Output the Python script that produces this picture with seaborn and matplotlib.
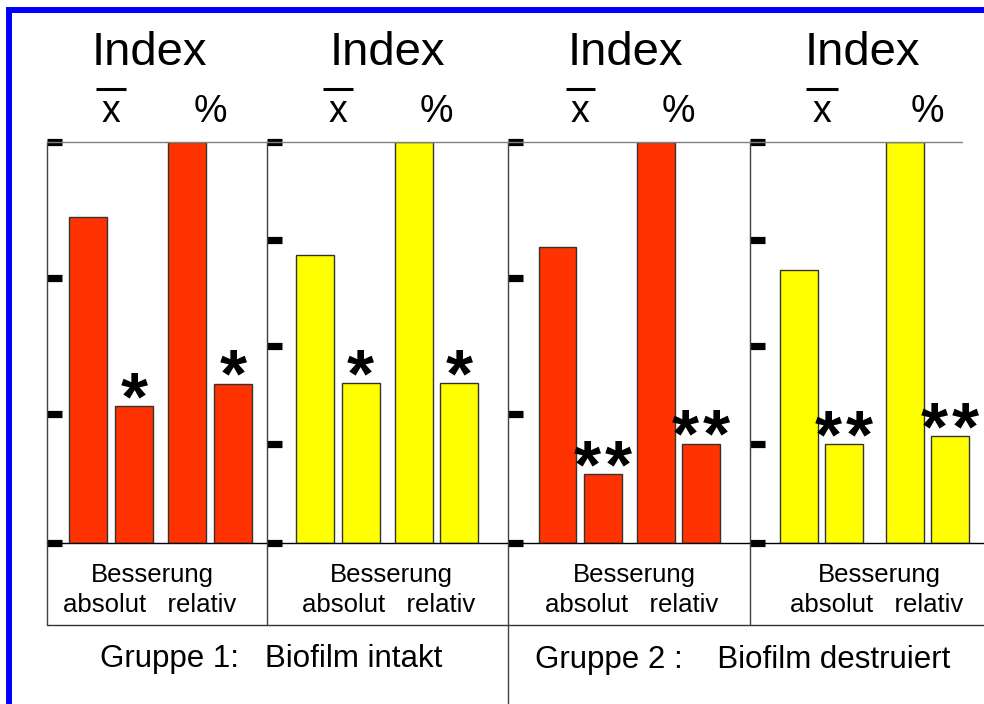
import matplotlib
matplotlib.use("Agg")
import matplotlib.pyplot as plt
import matplotlib.transforms as mtransforms
from matplotlib.lines import Line2D
from matplotlib.patches import Rectangle
import pandas as pd
import seaborn as sns

sns.set_theme(style="white")
plt.rcParams["font.family"] = ["Liberation Sans", "DejaVu Sans"]

# ---- data -------------------------------------------------------------
measures = ["x", "%"]          # mean index (x̄) and percent index
phases = ["vor", "nach"]        # before / after therapy

g1_red_mean = [2.44, 1.02]
g1_red_pct = [3.00, 1.19]
g1_yellow_mean = [2.87, 1.59]
g1_yellow_pct = [4.00, 1.59]
g2_red_mean = [2.21, 0.51]
g2_red_pct = [3.00, 0.74]
g2_yellow_mean = [2.72, 0.985]
g2_yellow_pct = [4.00, 1.06]

ticks_red = [0, 0.965, 1.983, 3]
ticks_yellow = [0, 0.984, 1.963, 3.022, 4]

stars_g1 = 1   # p < 0.05
stars_g2 = 2   # p < 0.01

header = "Index"
sub_header = "Besserung"
sub_labels = "absolut   relativ"
group_labels = ["Gruppe 1:   Biofilm intakt", "Gruppe 2 :    Biofilm destruiert"]

RED = "#FF3300"
YELLOW = "#FFFF00"

# ---- layout helpers (pixel based) ------------------------------------
W, H = 984, 704
fig = plt.figure(figsize=(W / 100, H / 100), dpi=100)
fig.patch.set_facecolor("white")


def fx(px):
    return px / W


def fy(py):
    return 1 - py / H


TOP, BASE = 142, 542.5
edges = [47, 266.7, 508, 750, 984]
xlims = [(-0.649, 1.574), (-0.724, 1.726), (-0.736, 1.730), (-0.677, 1.534)]
widths = [0.922, 0.922, 0.922, 0.853]
gaps = [0.165, 0.165, 0.165, 0.158]
index_cx = [149, 387, 625, 862]
label_cx = [152, 391, 634, 879]
STAR_STEP = 22.3  # points between neighbouring stars

panels = [
    (g1_red_mean, g1_red_pct, RED, 3, ticks_red, stars_g1),
    (g1_yellow_mean, g1_yellow_pct, YELLOW, 4, ticks_yellow, stars_g1),
    (g2_red_mean, g2_red_pct, RED, 3, ticks_red, stars_g2),
    (g2_yellow_mean, g2_yellow_pct, YELLOW, 4, ticks_yellow, stars_g2),
]

for i, (mean_vals, pct_vals, color, ymax, ticks, n_stars) in enumerate(panels):
    left, right = edges[i], edges[i + 1]
    ax = fig.add_axes([fx(left), fy(BASE), fx(right) - fx(left), (BASE - TOP) / H])
    df = pd.DataFrame({
        "measure": [measures[0]] * 2 + [measures[1]] * 2,
        "phase": phases * 2,
        "value": list(mean_vals) + list(pct_vals),
    })
    sns.barplot(data=df, x="measure", y="value", hue="phase",
                order=measures, hue_order=phases, palette=[color, color],
                saturation=1, width=widths[i], gap=gaps[i],
                edgecolor="#333333", linewidth=1, legend=False, ax=ax)
    ax.set_xlim(*xlims[i])
    ax.set_ylim(0, ymax)
    ax.set_xlabel("")
    ax.set_ylabel("")
    ax.set_facecolor("none")
    for side in ["top", "right", "bottom"]:
        ax.spines[side].set_visible(False)
    ax.spines["left"].set_color("#404040")
    ax.spines["left"].set_linewidth(1)

    ax.set_yticks(ticks)
    ax.set_yticklabels([])
    ax.tick_params(axis="y", direction="in", length=10.8, width=5.2,
                   color="black", left=True)
    ax.xaxis.tick_top()
    ax.tick_params(axis="x", top=True, bottom=False, labeltop=True,
                   labelbottom=False, length=0, pad=9, labelsize=27,
                   labelcolor="black")

    # bar over the x of the mean label
    blend = mtransforms.blended_transform_factory(ax.transData, fig.transFigure)
    ax.add_line(Line2D([-0.15, 0.15], [fy(89), fy(89)], transform=blend,
                       color="black", lw=2.2, solid_capstyle="butt",
                       clip_on=False))

    # significance stars above the post-therapy bars
    for bar in ax.containers[1]:
        xc = bar.get_x() + bar.get_width() / 2
        for k in range(n_stars):
            dx = (k - (n_stars - 1) / 2) * STAR_STEP
            ax.annotate("*", (xc, bar.get_height()), xytext=(dx, -9.5),
                        textcoords="offset points", ha="center",
                        va="baseline", fontsize=50, fontweight="bold",
                        color="black", annotation_clip=False)

    fig.text(fx(index_cx[i]), fy(65), header, ha="center", va="baseline",
             fontsize=34, color="black")
    fig.text(fx(label_cx[i]), fy(581.7), sub_header, ha="center",
             va="baseline", fontsize=18.5, color="black")
    fig.text(fx(label_cx[i] - 2.5), fy(612.3), sub_labels, ha="center",
             va="baseline", fontsize=18.5, color="black")

# group captions
fig.text(fx(271), fy(666.7), group_labels[0], ha="center", va="baseline",
         fontsize=22.5, color="black")
fig.text(fx(743), fy(668.3), group_labels[1], ha="center", va="baseline",
         fontsize=22.5, color="black")

# table rules
rules = [
    ([47, 962], [TOP, TOP], "#808080"),
    ([47, 984], [BASE, BASE], "black"),
    ([47, 984], [625, 625], "#333333"),
    ([47, 47], [BASE, 625], "#404040"),
    ([266.7, 266.7], [BASE, 625], "#404040"),
    ([508, 508], [BASE, 704], "#404040"),
    ([750, 750], [BASE, 625], "#404040"),
]
for xs, ys, c in rules:
    fig.add_artist(Line2D([fx(v) for v in xs], [fy(v) for v in ys],
                          transform=fig.transFigure, color=c, lw=1))

# blue frame
fig.add_artist(Rectangle((fx(9), fy(706.5)), fx(990) - fx(9), fy(10) - fy(706.5),
                         transform=fig.transFigure, fill=False,
                         edgecolor="#0000FF", lw=4.3))

fig.savefig("out.png", dpi=100, facecolor="white")
